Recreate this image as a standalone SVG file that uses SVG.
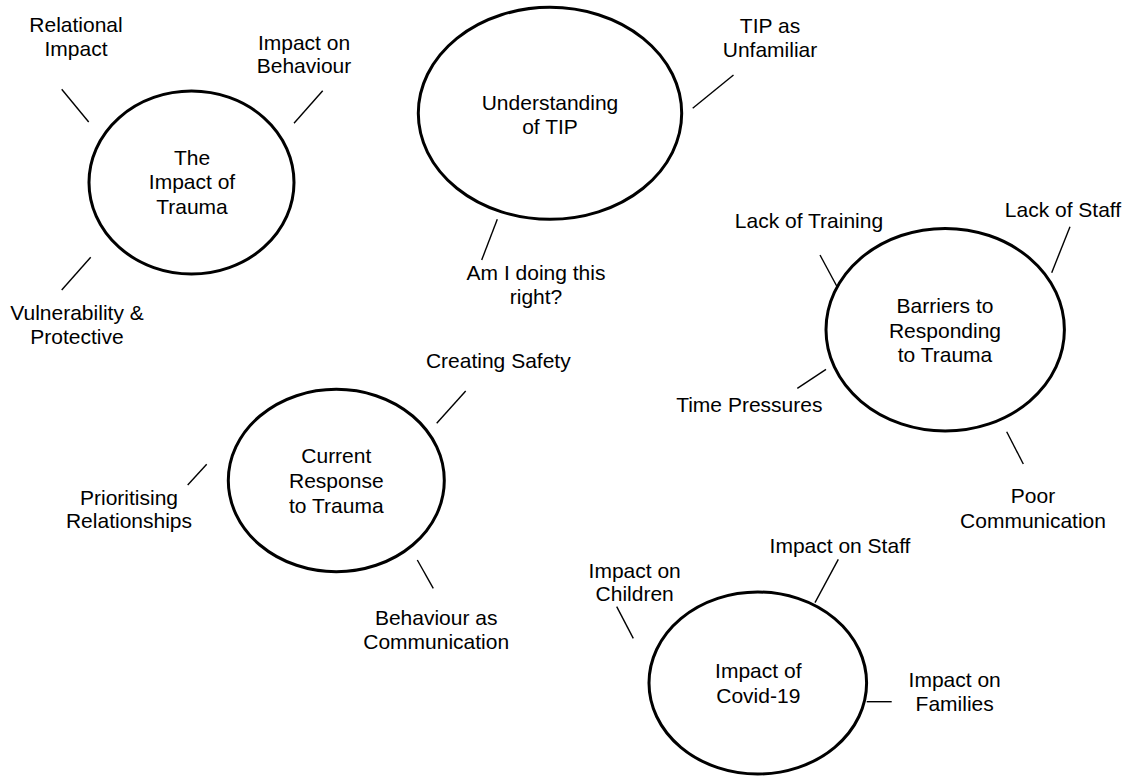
<svg xmlns="http://www.w3.org/2000/svg" width="1126" height="777" viewBox="0 0 1126 777">
  <style>
    .theme { fill: #ffffff; stroke: #000000; stroke-width: 3; }
    .link { stroke: #000000; stroke-width: 1.4; fill: none; }
    text { font-family: "Liberation Sans", Arial, sans-serif; font-size: 21px; fill: #000000; text-anchor: middle; }
  </style>
  <rect width="1126" height="777" fill="#ffffff"/>

  <!-- spokes between themes and sub-themes -->
  <g id="connectors">
    <line class="link" x1="61.7" y1="89.3" x2="88.7" y2="122"/>
    <line class="link" x1="322.7" y1="90.7" x2="294" y2="123.3"/>
    <line class="link" x1="90.7" y1="257.3" x2="61.7" y2="290"/>
    <line class="link" x1="733.5" y1="75" x2="692.7" y2="108.3"/>
    <line class="link" x1="497.3" y1="219.3" x2="481.7" y2="260"/>
    <line class="link" x1="820" y1="255" x2="836.7" y2="286"/>
    <line class="link" x1="1070" y1="226.7" x2="1051.7" y2="272.7"/>
    <line class="link" x1="826" y1="369.3" x2="797.3" y2="388.3"/>
    <line class="link" x1="1006.7" y1="431.7" x2="1023.3" y2="464"/>
    <line class="link" x1="465.7" y1="391" x2="436.7" y2="423.3"/>
    <line class="link" x1="206.7" y1="464.3" x2="187.7" y2="485"/>
    <line class="link" x1="417.3" y1="560" x2="433.3" y2="588.3"/>
    <line class="link" x1="838.3" y1="559.3" x2="815" y2="602.7"/>
    <line class="link" x1="616.7" y1="606.7" x2="633.3" y2="638.3"/>
    <line class="link" x1="866.7" y1="701.7" x2="891.7" y2="701.7"/>
  </g>

  <!-- theme: impact of trauma -->
  <g id="impact-of-trauma">
    <ellipse class="theme" cx="191.5" cy="182.5" rx="102.5" ry="91.5"/>
    <text x="192" y="164.5">The</text>
    <text x="192" y="189">Impact of</text>
    <text x="192" y="213.5">Trauma</text>
  </g>
  <g id="relational-impact">
    <text x="76" y="31.5">Relational</text>
    <text x="76" y="56">Impact</text>
  </g>
  <g id="impact-on-behaviour">
    <text x="304" y="49.5">Impact on</text>
    <text x="304" y="73">Behaviour</text>
  </g>
  <g id="vulnerability-protective">
    <text x="77" y="320">Vulnerability &amp;</text>
    <text x="77" y="343.5">Protective</text>
  </g>

  <!-- theme: understanding of TIP -->
  <g id="understanding-of-tip">
    <ellipse class="theme" cx="550" cy="113.3" rx="131.7" ry="106"/>
    <text x="550" y="109.5">Understanding</text>
    <text x="550" y="133.5">of TIP</text>
  </g>
  <g id="tip-as-unfamiliar">
    <text x="770" y="33.3">TIP as</text>
    <text x="770" y="56.7">Unfamiliar</text>
  </g>
  <g id="am-i-doing-this-right">
    <text x="536" y="280">Am I doing this</text>
    <text x="536" y="303.5">right?</text>
  </g>

  <!-- theme: barriers to responding -->
  <g id="barriers-to-responding">
    <ellipse class="theme" cx="945.2" cy="329.7" rx="119.2" ry="101.3"/>
    <text x="945" y="312.7">Barriers to</text>
    <text x="945" y="337.5">Responding</text>
    <text x="945" y="361.7">to Trauma</text>
  </g>
  <g id="lack-of-training">
    <text x="809" y="228.3">Lack of Training</text>
  </g>
  <g id="lack-of-staff">
    <text x="1063" y="216.7">Lack of Staff</text>
  </g>
  <g id="time-pressures">
    <text x="749.3" y="412.3">Time Pressures</text>
  </g>
  <g id="poor-communication">
    <text x="1033" y="503.3">Poor</text>
    <text x="1033" y="528.3">Communication</text>
  </g>

  <!-- theme: current response -->
  <g id="current-response">
    <ellipse class="theme" cx="336.3" cy="480.5" rx="108" ry="91.2"/>
    <text x="336.3" y="462.7">Current</text>
    <text x="336.3" y="487.7">Response</text>
    <text x="336.3" y="512.7">to Trauma</text>
  </g>
  <g id="creating-safety">
    <text x="498.3" y="368.3">Creating Safety</text>
  </g>
  <g id="prioritising-relationships">
    <text x="129" y="505">Prioritising</text>
    <text x="129" y="527.7">Relationships</text>
  </g>
  <g id="behaviour-as-communication">
    <text x="436.2" y="625">Behaviour as</text>
    <text x="436.2" y="649.3">Communication</text>
  </g>

  <!-- theme: covid-19 -->
  <g id="impact-of-covid">
    <ellipse class="theme" cx="757.8" cy="683" rx="108.8" ry="91"/>
    <text x="758.3" y="678">Impact of</text>
    <text x="758.3" y="702.7">Covid-19</text>
  </g>
  <g id="impact-on-staff">
    <text x="840" y="553.3">Impact on Staff</text>
  </g>
  <g id="impact-on-children">
    <text x="634.7" y="577.7">Impact on</text>
    <text x="634.7" y="601">Children</text>
  </g>
  <g id="impact-on-families">
    <text x="954.7" y="686.7">Impact on</text>
    <text x="954.7" y="711">Families</text>
  </g>
</svg>
